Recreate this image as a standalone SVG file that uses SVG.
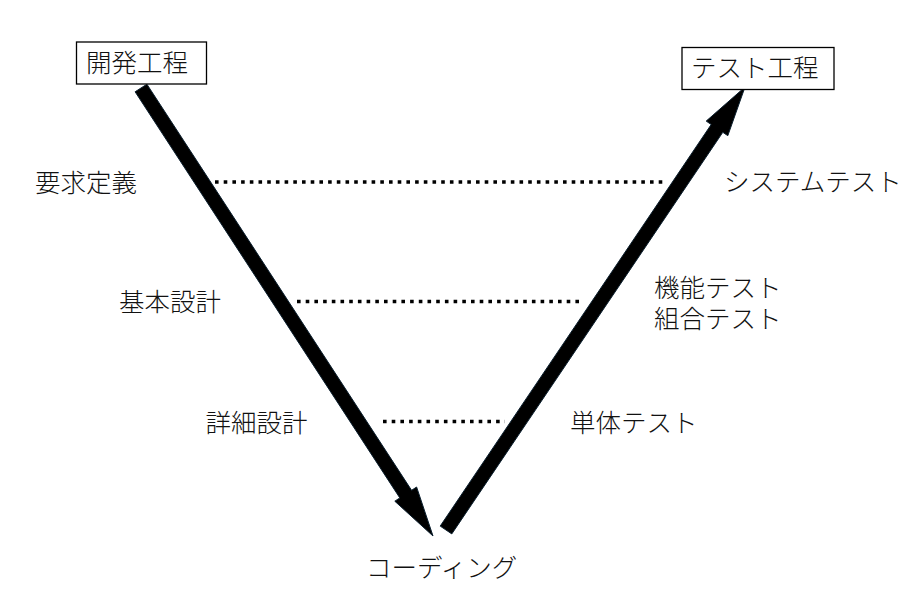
<svg xmlns="http://www.w3.org/2000/svg" width="921" height="613" viewBox="0 0 921 613">
<style>
text{font-family:"Noto Sans CJK JP","Noto Sans CJK SC",sans-serif;font-size:25.5px;font-weight:300;fill:#111;dominant-baseline:central}
.box{fill:#fff;stroke:#000;stroke-width:1.3}
.dot{stroke:#000;stroke-width:3.6;stroke-dasharray:3.6 5.1;fill:none}
.arrow{fill:#000;stroke:#0b1f2e;stroke-width:1;stroke-linejoin:miter}
</style>
<rect width="921" height="613" fill="#fff"/>
<g id="connectors">
<polygon class="arrow" points="146.9,84.2 411.6,490.3 416.6,487 433,536 394.8,501.2 399.8,497.9 135.1,91.8"/>
<polygon class="arrow" points="440.2,526.1 711.2,124.5 706.2,121.1 745,87 727.8,135.7 722.8,132.3 451.8,533.9"/>
<line class="dot" x1="215" y1="182" x2="666" y2="182"/>
<line class="dot" x1="297" y1="301.5" x2="581" y2="301.5"/>
<line class="dot" x1="383" y1="421.5" x2="505" y2="421.5"/>
</g>
<g id="node-dev">
<rect class="box" x="76.5" y="42" width="130" height="42"/>
<text x="86" y="60">開発工程</text>
</g>
<g id="node-test">
<rect class="box" x="682" y="47.5" width="152" height="42"/>
<text x="691" y="65.5">テスト工程</text>
</g>
<g id="node-req"><text x="35" y="180">要求定義</text></g>
<g id="node-basic"><text x="119" y="299">基本設計</text></g>
<g id="node-detail"><text x="205.5" y="420">詳細設計</text></g>
<g id="node-coding"><text x="366" y="565">コーディング</text></g>
<g id="node-unit"><text x="570" y="420">単体テスト</text></g>
<g id="node-func"><text x="654" y="285">機能テスト</text><text x="654" y="316.5">組合テスト</text></g>
<g id="node-sys"><text x="724" y="179.5">システムテスト</text></g>
</svg>
